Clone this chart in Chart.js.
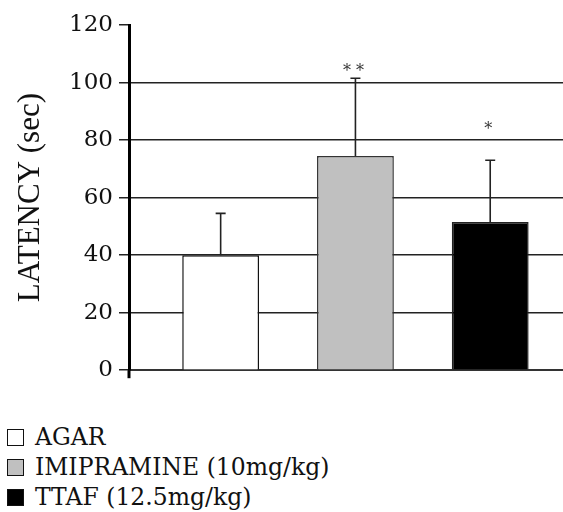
<!DOCTYPE html>
<html>
<head>
<meta charset="utf-8">
<script src="https://cdn.jsdelivr.net/npm/chart.js@4.4.1/dist/chart.umd.min.js"></script>
<style>
  html, body { margin: 0; padding: 0; background: #fff; }
  #wrap { position: relative; width: 563px; height: 512px; }
  #box { position: absolute; left: 0; top: 0; width: 563px; height: 390px; }
  #legend { position: absolute; left: 7px; top: 422px; font-family: "DejaVu Serif", serif; font-size: 23.5px; color: #111; }
  .item { height: 30px; display: flex; align-items: center; white-space: nowrap; }
  .sw { width: 17px; height: 17px; border: 1px solid #111; margin-right: 11px; box-sizing: border-box; }
</style>
</head>
<body>
<div id="wrap">
  <div id="box"><canvas id="c"></canvas></div>
  <div id="legend"></div>
</div>
<script>
const categories = ['AGAR', 'IMIPRAMINE (10mg/kg)', 'TTAF (12.5mg/kg)'];
const latency = [40, 74.5, 51.5];
const sem = [14.5, 27, 21.5];
const significance = ['', '**', '*'];
const starLevels = [null, 105, 85];
const yTicks = [0, 20, 40, 60, 80, 100, 120];
const fills = ['#ffffff', '#c0c0c0', '#000000'];
const borders = ['#111111', '#333333', '#222222'];

const extras = {
  id: 'extras',
  afterDatasetsDraw(chart) {
    const ctx = chart.ctx;
    const meta = chart.getDatasetMeta(0);
    const y = chart.scales.y;
    ctx.save();
    ctx.strokeStyle = '#222';
    ctx.lineWidth = 1.6;
    meta.data.forEach((bar, i) => {
      const top = y.getPixelForValue(latency[i] + sem[i]);
      ctx.beginPath();
      ctx.moveTo(bar.x, bar.y);
      ctx.lineTo(bar.x, top);
      ctx.moveTo(bar.x - 5, top);
      ctx.lineTo(bar.x + 5, top);
      ctx.stroke();
      if (significance[i]) {
        ctx.fillStyle = '#333';
        ctx.font = '16px "DejaVu Serif"';
        ctx.textAlign = 'center';
        ctx.textBaseline = 'middle';
        ctx.fillText(significance[i].split('').join(' '), bar.x - 2, y.getPixelForValue(starLevels[i]) + 4);
      }
    });
    const a = chart.chartArea;
    ctx.strokeStyle = '#000';
    ctx.lineWidth = 3;
    ctx.beginPath();
    ctx.moveTo(a.left, a.bottom);
    ctx.lineTo(a.left, a.bottom + 8);
    ctx.stroke();
    ctx.restore();
  }
};

new Chart(document.getElementById('c'), {
  type: 'bar',
  data: {
    datasets: [{
      label: 'LATENCY',
      data: latency.map((v, i) => ({ x: i + 1, y: v })),
      backgroundColor: fills,
      borderColor: borders,
      borderWidth: 1.5,
      categoryPercentage: 1,
      barPercentage: 0.57
    }]
  },
  options: {
    responsive: true,
    maintainAspectRatio: false,
    animation: false,
    layout: { padding: { top: 25, right: 0, bottom: 17, left: 0 } },
    plugins: { legend: { display: false }, tooltip: { enabled: false } },
    scales: {
      x: {
        type: 'linear',
        offset: false,
        min: 0.32,
        max: 3.54,
        afterBuildTicks(s) { s.ticks = categories.map((c, i) => ({ value: i + 1 })); },
        ticks: { display: false },
        grid: { display: false },
        border: { display: true, color: '#333', width: 2 },
        afterFit(s) { s.height = 0; }
      },
      y: {
        min: 0,
        max: 120,
        afterBuildTicks(s) { s.ticks = yTicks.map(v => ({ value: v })); },
        ticks: {
          color: '#111',
          padding: 6,
          font: { family: 'DejaVu Serif', size: 23 }
        },
        grid: {
          color: c => (c.tick && c.tick.value === 120) ? 'rgba(0,0,0,0)' : '#222',
          tickColor: '#222',
          lineWidth: 1.5,
          tickLength: 10,
          drawTicks: true
        },
        border: { display: true, color: '#000', width: 3 },
        title: {
          display: true,
          text: 'LATENCY (sec)',
          color: '#111',
          font: { family: 'Liberation Serif', size: 31 },
          padding: { top: 12, bottom: 0 }
        },
        afterFit(s) { s.width = 129; }
      }
    }
  },
  plugins: [extras]
});

const lg = document.getElementById('legend');
categories.forEach((name, i) => {
  const row = document.createElement('div');
  row.className = 'item';
  const sw = document.createElement('span');
  sw.className = 'sw';
  sw.style.background = fills[i];
  const t = document.createElement('span');
  t.textContent = name;
  row.appendChild(sw);
  row.appendChild(t);
  lg.appendChild(row);
});
</script>
</body>
</html>
